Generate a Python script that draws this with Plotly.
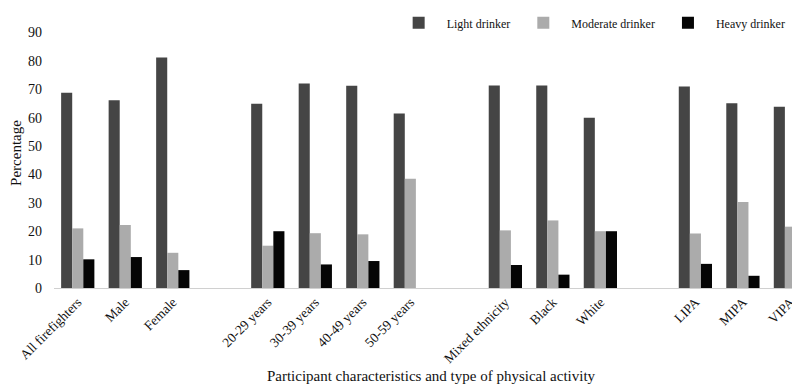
import plotly.graph_objects as go

categories = ["All firefighters", "Male", "Female", " ",
              "20-29 years", "30-39 years", "40-49 years", "50-59 years", "  ",
              "Mixed ethnicity", "Black", "White", "   ",
              "LIPA", "MIPA", "VIPA"]
light = [68.8, 66.1, 81.2, None, 64.9, 72.0, 71.2, 61.5, None, 71.3, 71.3, 60.0, None, 71.0, 65.1, 63.8]
moderate = [21.0, 22.2, 12.4, None, 14.9, 19.3, 18.9, 38.5, None, 20.3, 23.8, 20.0, None, 19.2, 30.3, 21.6]
heavy = [10.1, 10.9, 6.3, None, 20.0, 8.3, 9.5, 0, None, 8.1, 4.7, 20.0, None, 8.5, 4.3, 8.3]

series = [("Light drinker", light, "#454545"),
          ("Moderate drinker", moderate, "#ababab"),
          ("Heavy drinker", heavy, "#050505")]

y_ticks = [0, 10, 20, 30, 40, 50, 60, 70, 80, 90]

fig = go.Figure()
for name, vals, col in series:
    fig.add_trace(go.Bar(x=categories, y=vals, name=name,
                         marker=dict(color=col, line=dict(width=0))))

serif = "Liberation Serif, Times New Roman, serif"
fig.update_layout(
    width=800, height=387,
    margin=dict(l=46, r=0, t=0, b=107),
    paper_bgcolor="white", plot_bgcolor="white",
    barmode="group", bargap=0.3, bargroupgap=0,
    font=dict(family=serif, color="#111111"),
    legend=dict(orientation="h", x=0.977, xanchor="right", y=0.982, yanchor="middle",
                font=dict(size=12, family=serif), itemwidth=46,
                bgcolor="rgba(0,0,0,0)"),
    xaxis=dict(type="category", categoryorder="array", categoryarray=categories,
               range=[-0.5, 15.37], tickangle=-45, tickfont=dict(size=13.5),
               showgrid=False, showline=True, linecolor="#d0d0d0", linewidth=1,
               ticks="", automargin=False,
               title=dict(text="Participant characteristics and type of physical activity",
                          font=dict(size=15), standoff=5)),
    yaxis=dict(range=[0, 95.1], tickvals=y_ticks, tickfont=dict(size=14),
               showgrid=False, showline=False, zeroline=False, ticks="",
               ticklabelstandoff=11, automargin=False,
               title=dict(text="Percentage", font=dict(size=15), standoff=2)),
)

fig.write_html("out.html")
